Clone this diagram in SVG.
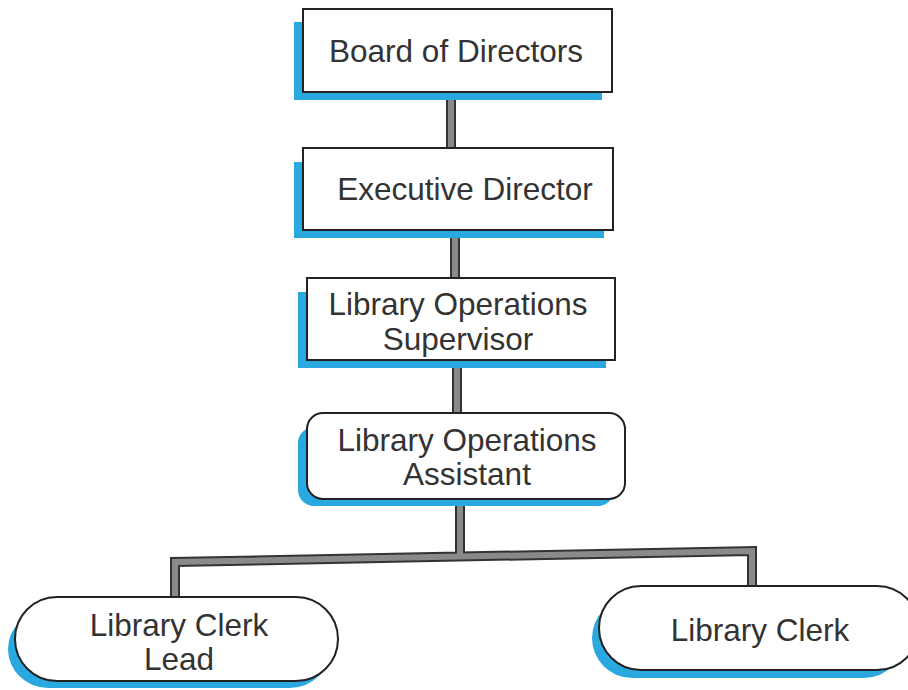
<svg xmlns="http://www.w3.org/2000/svg" width="908" height="690" viewBox="0 0 908 690">
<style>
.sh{fill:#2aa9e0}
.box{fill:#fff;stroke:#222;stroke-width:2}
.t{font-family:"Liberation Sans",Arial,sans-serif;font-size:31.5px;fill:#333;text-anchor:middle}
.c{fill:none;stroke:#333;stroke-width:10}
.ci{fill:none;stroke:#8a8a8a;stroke-width:6}
</style>
<rect width="908" height="690" fill="#fff"/>
<g id="connectors">
<path class="c" d="M451 92V148M455 230V278M457 360V413M460 499V556M175 598V562L752 551V586"/>
<path class="ci" d="M451 92V148M455 230V278M457 360V413M460 499V556M175 598V562L752 551V586"/>
</g>
<g id="board">
<rect class="sh" x="294" y="22" width="308" height="78"/>
<rect class="box" x="303" y="9" width="309" height="83"/>
<text class="t" x="456" y="62">Board of Directors</text>
</g>
<g id="executive">
<rect class="sh" x="294" y="162" width="310" height="76"/>
<rect class="box" x="303" y="148" width="310" height="82"/>
<text class="t" x="465" y="200">Executive Director</text>
</g>
<g id="supervisor">
<rect class="sh" x="298" y="292" width="308" height="76"/>
<rect class="box" x="307" y="278" width="308" height="82"/>
<text class="t" x="458" y="315">Library Operations</text>
<text class="t" x="458" y="350">Supervisor</text>
</g>
<g id="assistant">
<rect class="sh" x="298" y="427" width="316" height="79" rx="16"/>
<rect class="box" x="307" y="413" width="318" height="86" rx="16"/>
<text class="t" x="467" y="451">Library Operations</text>
<text class="t" x="467" y="485">Assistant</text>
</g>
<g id="clerk-lead">
<rect class="sh" x="8" y="610" width="322" height="78" rx="40"/>
<rect class="box" x="15" y="597" width="323" height="84" rx="42"/>
<text class="t" x="179" y="636">Library Clerk</text>
<text class="t" x="179" y="670">Lead</text>
</g>
<g id="clerk">
<rect class="sh" x="592" y="598" width="312" height="80" rx="40"/>
<rect class="box" x="599" y="586" width="320" height="84" rx="42"/>
<text class="t" x="760" y="641">Library Clerk</text>
</g>
</svg>
